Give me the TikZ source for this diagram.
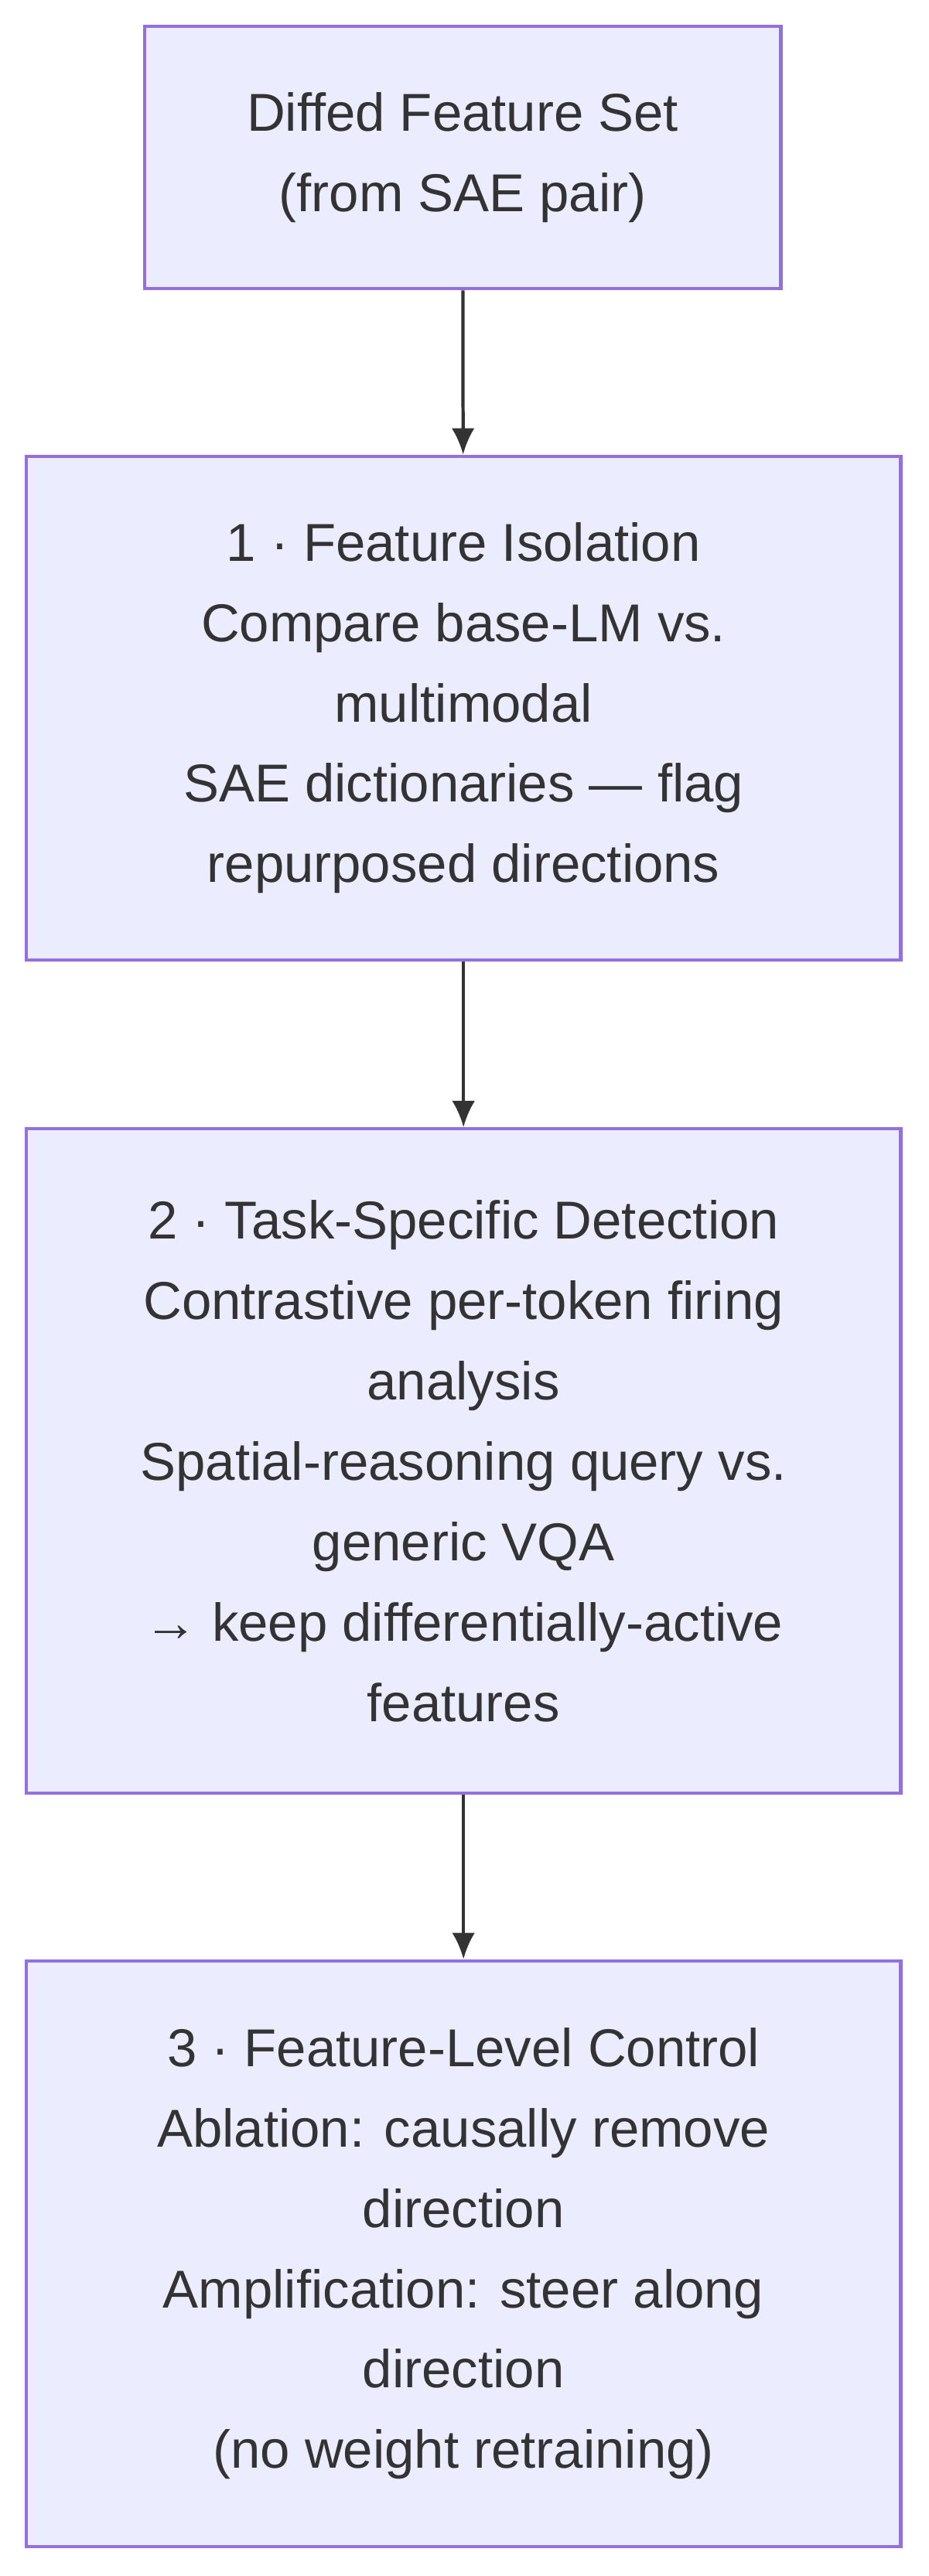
\documentclass[tikz,border=0pt]{standalone}
\usepackage{fontspec}
\setmainfont{Liberation Sans}
\usetikzlibrary{arrows.meta}
\definecolor{boxfill}{HTML}{ECECFF}
\definecolor{boxline}{HTML}{9370DB}
\definecolor{ink}{HTML}{333333}
\begin{document}
\begin{tikzpicture}[x=1pt,y=-1pt,
    stage/.style={draw=boxline,fill=boxfill,line width=2pt,align=center,
      text=ink,inner sep=0pt,font=\fontsize{32.5}{49}\selectfont},
    flow/.style={draw=ink,line width=2pt,-{Latex[length=16pt,width=14pt]}}]
  \useasboundingbox (0,0) rectangle (566,1570);
  \node[stage,minimum width=388pt,minimum height=160pt] (src) at (282,96)
    {Diffed Feature Set\\(from SAE pair)};
  \node[stage,minimum width=533pt,minimum height=307pt] (iso) at (282.5,431.5)
    {1 · Feature Isolation\\Compare base-LM vs.\\multimodal\\SAE dictionaries — flag\\repurposed directions};
  \node[stage,minimum width=533pt,minimum height=405pt] (det) at (282.5,890.5)
    {2 · Task-Specific Detection\\Contrastive per-token firing\\analysis\\Spatial-reasoning query vs.\\generic VQA\\→ keep differentially-active\\features};
  \node[stage,minimum width=533pt,minimum height=357pt] (ctl) at (282.5,1373.5)
    {3 · Feature-Level Control\\Ablation: causally remove\\direction\\Amplification: steer along\\direction\\(no weight retraining)};
  \draw[flow] (src) -- (iso);
  \draw[flow] (iso) -- (det);
  \draw[flow] (det) -- (ctl);
\end{tikzpicture}
\end{document}
